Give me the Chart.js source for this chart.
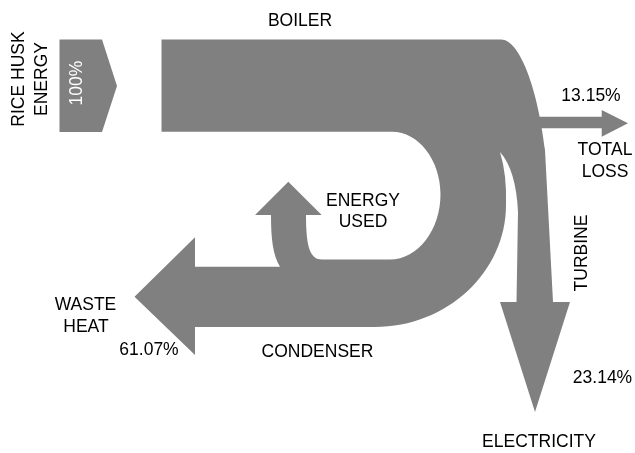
<!DOCTYPE html>
<html lang="en">
  <head>
    <meta charset="UTF-8" />
    <script src="https://cdn.jsdelivr.net/npm/chart.js"></script>
    <title>Rice husk energy flow</title>
    <style>
      body { margin: 0; background: #fff; }
      .box { width: 635px; height: 453px; }
    </style>
  </head>
  <body>
    <div class="box"><canvas id="myChart"></canvas></div>

    <script>
      // flows (percent of rice husk energy)
      const stages = ["BOILER", "TURBINE", "CONDENSER"];
      const inputName = ["RICE HUSK", "ENERGY"];
      const inputValue = [100];
      const outputNames = ["TOTAL LOSS", "ELECTRICITY", "WASTE HEAT", "ENERGY USED"];
      const outputValues = [13.15, 23.14, 61.07, null];

      const pct = (v) => v.toFixed(2) + "%";

      // outlines of the arrows, in axis units (x 0..635, y 0..453 top-down)
      const shapes = [
        // input arrow
        [["M", 59.5, 39.5], ["L", 102, 39.5], ["L", 117, 86], ["L", 102, 132], ["L", 59.5, 132], ["Z"]],
        // boiler band, turbine, condenser, waste heat and energy used
        [
          ["M", 161.5, 39.5],
          ["L", 501, 39.5],
          ["C", 520, 39.5, 538, 90, 545, 150],
          ["L", 553, 302],
          ["L", 570, 302],
          ["L", 535, 412],
          ["L", 500, 302],
          ["L", 516.5, 302],
          ["L", 518, 212],
          ["Q", 516, 170, 500, 152],
          ["Q", 507, 175, 506, 205],
          ["C", 506, 272, 447, 327, 375, 327],
          ["L", 195, 327],
          ["L", 195, 355],
          ["L", 134.5, 296.7],
          ["L", 195, 237.3],
          ["L", 195, 266.7],
          ["L", 280, 266.7],
          ["C", 273, 255, 271, 240, 271, 215],
          ["L", 255, 215],
          ["L", 288.3, 181.7],
          ["L", 321.7, 215],
          ["L", 306, 215],
          ["C", 306, 247, 310, 259.5, 322, 259.5],
          ["L", 390, 259.5],
          ["C", 418, 259.5, 440.5, 230, 440.5, 194],
          ["C", 440.5, 160, 418.5, 131.7, 392, 131.7],
          ["L", 161.5, 131.7],
          ["Z"],
        ],
        // total loss arrow
        [["M", 530, 116.7], ["L", 601.7, 116.7], ["L", 601.7, 110], ["L", 628, 123.3], ["L", 601.7, 136.7], ["L", 601.7, 128.3], ["L", 530, 128.3], ["Z"]],
      ];

      // text: [text, x, y, rotated, colour]
      const texts = [
        [stages[0], 300, 26, false],
        [inputName[0], 24, 79, true],
        [inputName[1], 46.7, 79, true],
        [pct(inputValue[0]).replace(".00", ""), 81.7, 83, true, "#ffffff"],
        [pct(outputValues[0]), 591, 101, false],
        [outputNames[0].split(" ")[0], 605, 155, false],
        [outputNames[0].split(" ")[1], 605, 176.7, false],
        [outputNames[3].split(" ")[0], 363, 205.5, false],
        [outputNames[3].split(" ")[1], 363, 227.3, false],
        [stages[1], 586.7, 253, true],
        [outputNames[2].split(" ")[0], 85.5, 310, false],
        [outputNames[2].split(" ")[1], 86, 332.3, false],
        [pct(outputValues[2]), 149, 355, false],
        [stages[2], 317.5, 356.7, false],
        [pct(outputValues[1]), 602.5, 383.3, false],
        [outputNames[1], 539, 446.7, false],
      ];

      const sankeyDraw = {
        id: "sankeyDraw",
        beforeDatasetsDraw(chart) {
          const ctx = chart.ctx;
          const xs = chart.scales.x;
          const ys = chart.scales.y;
          const px = (v) => xs.getPixelForValue(v);
          const py = (v) => ys.getPixelForValue(v);

          ctx.save();
          ctx.fillStyle = "#808080";
          shapes.forEach(function (s) {
            ctx.beginPath();
            s.forEach(function (c) {
              if (c[0] == "M") ctx.moveTo(px(c[1]), py(c[2]));
              else if (c[0] == "L") ctx.lineTo(px(c[1]), py(c[2]));
              else if (c[0] == "Q") ctx.quadraticCurveTo(px(c[1]), py(c[2]), px(c[3]), py(c[4]));
              else if (c[0] == "C")
                ctx.bezierCurveTo(px(c[1]), py(c[2]), px(c[3]), py(c[4]), px(c[5]), py(c[6]));
              else ctx.closePath();
            });
            ctx.fill();
          });

          ctx.font = '17.5px "Liberation Sans", Arial, sans-serif';
          ctx.textAlign = "center";
          ctx.textBaseline = "alphabetic";
          texts.forEach(function (t) {
            ctx.fillStyle = t[4] || "#000000";
            if (t[3]) {
              ctx.save();
              ctx.translate(px(t[1]), py(t[2]));
              ctx.rotate(-Math.PI / 2);
              ctx.fillText(t[0], 0, 0);
              ctx.restore();
            } else {
              ctx.fillText(t[0], px(t[1]), py(t[2]));
            }
          });
          ctx.restore();
        },
      };

      const config = {
        type: "scatter",
        data: { datasets: [{ data: [] }] },
        options: {
          responsive: true,
          maintainAspectRatio: false,
          animation: false,
          layout: { padding: 0 },
          plugins: { legend: { display: false }, tooltip: { enabled: false } },
          scales: {
            x: { type: "linear", min: 0, max: 635, display: false },
            y: { type: "linear", min: 0, max: 453, reverse: true, display: false },
          },
        },
        plugins: [sankeyDraw],
      };

      const myChart = new Chart(document.getElementById("myChart"), config);
    </script>
  </body>
</html>
